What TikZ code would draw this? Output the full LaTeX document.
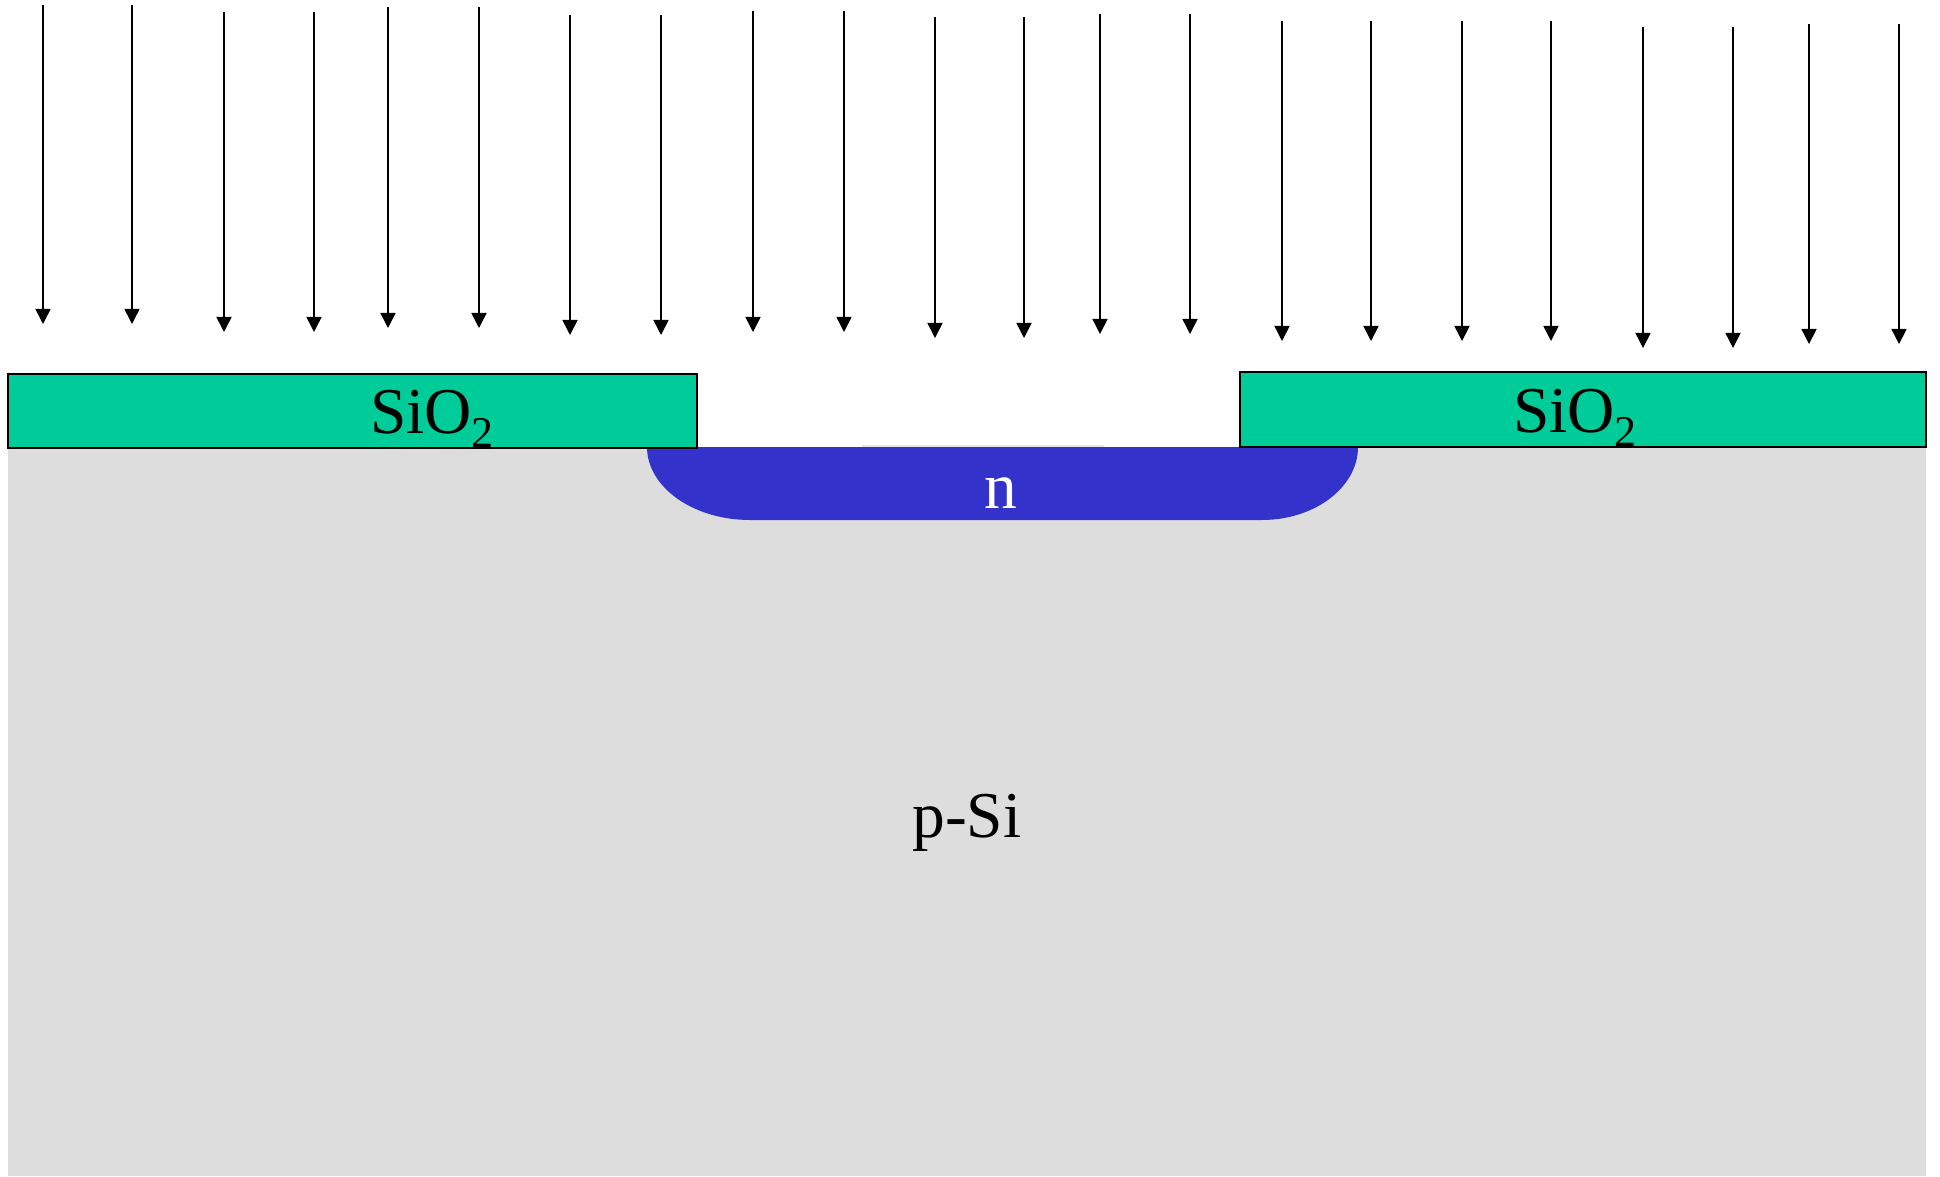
\documentclass[tikz,border=0pt]{standalone}
\usepackage{fontspec}
\setmainfont{Liberation Serif}
\usetikzlibrary{arrows.meta}

\definecolor{oxide}{HTML}{00CC99}
\definecolor{ndoped}{HTML}{3333CC}
\definecolor{substrate}{HTML}{DDDDDD}

\newcommand\lowsub[1]{\raisebox{-0.22em}{\fontsize{12.5}{14}\selectfont #1}}

\begin{document}
\begin{tikzpicture}[x=0.01cm,y=-0.01cm,
    ion/.style={line width=0.45pt,-{Triangle[width=0.15cm,length=0.15cm]}},
    layer/.style={draw=black,line width=0.55pt,fill=oxide},
    lbl/.style={font=\fontsize{18.6}{22}\selectfont,inner sep=0pt,anchor=base}]

  \useasboundingbox (0,0) rectangle (1940,1176);

  \fill[substrate] (8,447) rectangle (1926,1176);

  \fill[ndoped] (647,447) -- (1358,447)
    .. controls (1358,487) and (1315,520) .. (1262,520) -- (750,520)
    .. controls (693,520) and (647,487) .. (647,447) -- cycle;
  \draw[substrate!70!white,line width=0.6pt] (862,446) -- (1104,446);

  \draw[layer] (8,374) rectangle (697,448);
  \draw[layer] (1240,372) rectangle (1926,447);

  \foreach \x/\t/\b in {43/5/324,132/5/324,224/12/332,314/12/332,388/7/328,
      479/7/328,570/15/335,661/15/335,753/11/332,844/11/332,935/17/338,
      1024/17/338,1100/14/334,1190/14/334,1282/21/341,1371/21/341,
      1462/21/341,1551/21/341,1643/27/348,1733/27/348,1809/24/344,1899/24/344}
    \draw[ion] (\x,\t) -- (\x,\b);

  \node[lbl] (oxL) at (432,433) {SiO\lowsub{2}};
  \node[lbl] (oxR) at (1575,432) {SiO\lowsub{2}};
  \node[lbl,text=white] (well) at (1001,508) {n};
  \node[lbl] (sub) at (967,837) {p-Si};

\end{tikzpicture}
\end{document}
